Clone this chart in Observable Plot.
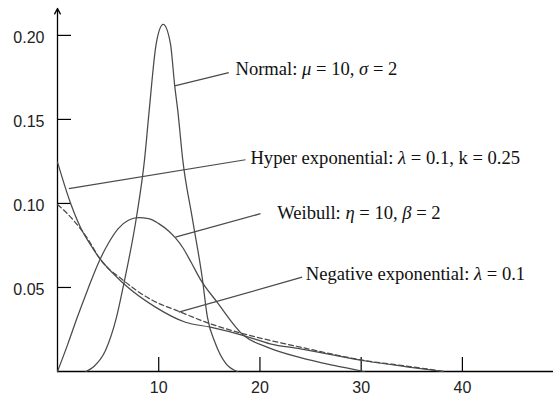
<!DOCTYPE html>
<html><head><meta charset="utf-8">
<script src="https://cdn.jsdelivr.net/npm/d3@7"></script>
<script src="https://cdn.jsdelivr.net/npm/@observablehq/plot@0.6"></script>
<style>body{margin:0;background:#fff}</style>
</head><body><div id="chart"></div>
<script>
// Tick values
const xTicks = [10, 20, 30, 40];
const yTicks = [0.05, 0.10, 0.15, 0.20];

// Normal: mu = 10, sigma = 2
const normalX = [2.8, 3.6, 4.74, 5.83, 6.55, 7.80, 8.59, 9.06, 9.75, 10.44, 11.16, 11.58, 11.88, 12.38, 13.30, 14.29, 14.81, 15.60, 16.6, 17.8];
const normalY = [0, 0.003, 0.0125, 0.0323, 0.0522, 0.0918, 0.1256, 0.1554, 0.195, 0.2065, 0.195, 0.170, 0.1554, 0.1256, 0.0918, 0.0561, 0.0323, 0.0167, 0.005, 0];

// Weibull: eta = 10, beta = 2
const weibullX = [0, 1, 2, 3, 4, 5, 6, 7, 8, 9, 10, 11, 11.65, 12.4, 13.2, 14.1, 15.8, 18.4, 20.7, 24, 27.3, 30.3];
const weibullY = [0, 0.016, 0.033, 0.049, 0.064, 0.076, 0.085, 0.090, 0.0915, 0.091, 0.088, 0.0835, 0.0795, 0.0735, 0.065, 0.055, 0.041, 0.0214, 0.0145, 0.0082, 0.0036, 0];

// Hyper exponential: lambda = 0.1, k = 0.25
const hyperX = [0, 1.3, 2.5, 3.1, 4.08, 6.55, 9.68, 12.64, 15.1, 18.4, 21, 24, 30.6, 34.5, 38.1];
const hyperY = [0.1246, 0.100, 0.083, 0.077, 0.068, 0.0522, 0.0383, 0.0293, 0.0264, 0.0214, 0.0165, 0.0135, 0.0061, 0.0028, 0];

// Negative exponential: lambda = 0.1 (dashed)
const negExpX = [0, 1.45, 3.09, 4.08, 6.55, 9.18, 11.98, 15.1, 18.4, 21, 24, 30.4, 34.5, 38.3];
const negExpY = [0.0994, 0.0909, 0.078, 0.068, 0.054, 0.043, 0.0358, 0.0284, 0.0224, 0.0185, 0.0145, 0.0065, 0.0032, 0];

// Annotations
const labelText = ["Normal: μ = 10, σ = 2", "Hyper exponential: λ = 0.1, k = 0.25", "Weibull: η = 10, β = 2", "Negative exponential: λ = 0.1"];
const labelX = [17.58, 19.06, 21.7, 24.52];
const labelY = [0.1798, 0.1268, 0.0943, 0.0577];
const leaderX1 = [11.58, 1.12, 11.65, 11.98];
const leaderY1 = [0.170, 0.1088, 0.0799, 0.0353];
const leaderX2 = [16.92, 18.57, 20.05, 24.17];
const leaderY2 = [0.1778, 0.126, 0.0939, 0.0561];

const pts = (xs, ys) => xs.map((x, i) => ({x, y: ys[i]}));
const annotations = labelText.map((label, i) => ({label, x: labelX[i], y: labelY[i]}));
const leaders = labelText.map((_, i) => ({x1: leaderX1[i], y1: leaderY1[i], x2: leaderX2[i], y2: leaderY2[i]}));

const curveStyle = {x: "x", y: "y", curve: "monotone-x", stroke: "#4a4a4a", strokeWidth: 1.25};

const chart = Plot.plot({
  width: 553, height: 397,
  marginLeft: 57, marginRight: 0, marginTop: 8, marginBottom: 26,
  x: {domain: [0, 49], label: null},
  y: {domain: [0, 0.216], label: null},
  style: {fontFamily: "Liberation Sans", fontSize: "16px", color: "#222", background: "#fff"},
  marks: [
    Plot.axisY({ticks: yTicks, tickSize: 14, dx: 14, tickFormat: () => "", label: null, stroke: "#000", strokeWidth: 1.2}),
    Plot.axisY({ticks: yTicks, tickSize: 0, tickPadding: 13, dy: 2, tickFormat: d => d.toFixed(2), label: null}),
    Plot.axisX({ticks: xTicks, tickSize: 14, dy: -14, tickFormat: () => "", label: null, stroke: "#000", strokeWidth: 1.2}),
    Plot.axisX({ticks: xTicks, tickSize: 0, tickPadding: 10, label: null}),
    Plot.ruleY([0], {stroke: "#000", strokeWidth: 1.3}),
    Plot.arrow([0], {x1: 0, x2: 0, y1: 0, y2: 0.216, headLength: 7, headAngle: 55, stroke: "#000", strokeWidth: 1.3}),
    Plot.line(pts(normalX, normalY), curveStyle),
    Plot.line(pts(weibullX, weibullY), curveStyle),
    Plot.line(pts(hyperX, hyperY), curveStyle),
    Plot.line(pts(negExpX, negExpY), {...curveStyle, strokeDasharray: "5,3"}),
    Plot.link(leaders, {x1: "x1", y1: "y1", x2: "x2", y2: "y2", stroke: "#4a4a4a", strokeWidth: 1.25}),
    Plot.text(annotations, {x: "x", y: "y", text: "label", textAnchor: "start", lineAnchor: "middle",
      fontFamily: "Liberation Serif", fontSize: 18.6, fill: "#111"})
  ]
});

// Italicize Greek symbols inside the annotation texts
chart.querySelectorAll("text").forEach(t => {
  const s = t.textContent;
  if (!/[μσληβ]/.test(s)) return;
  while (t.firstChild) t.removeChild(t.firstChild);
  for (const part of s.split(/([μσληβ])/)) {
    if (!part) continue;
    if (/[μσληβ]/.test(part)) {
      const ts = document.createElementNS("http://www.w3.org/2000/svg", "tspan");
      ts.setAttribute("font-style", "italic");
      ts.textContent = part;
      t.appendChild(ts);
    } else {
      t.appendChild(document.createTextNode(part));
    }
  }
});

document.getElementById("chart").appendChild(chart);
</script>
</body></html>
